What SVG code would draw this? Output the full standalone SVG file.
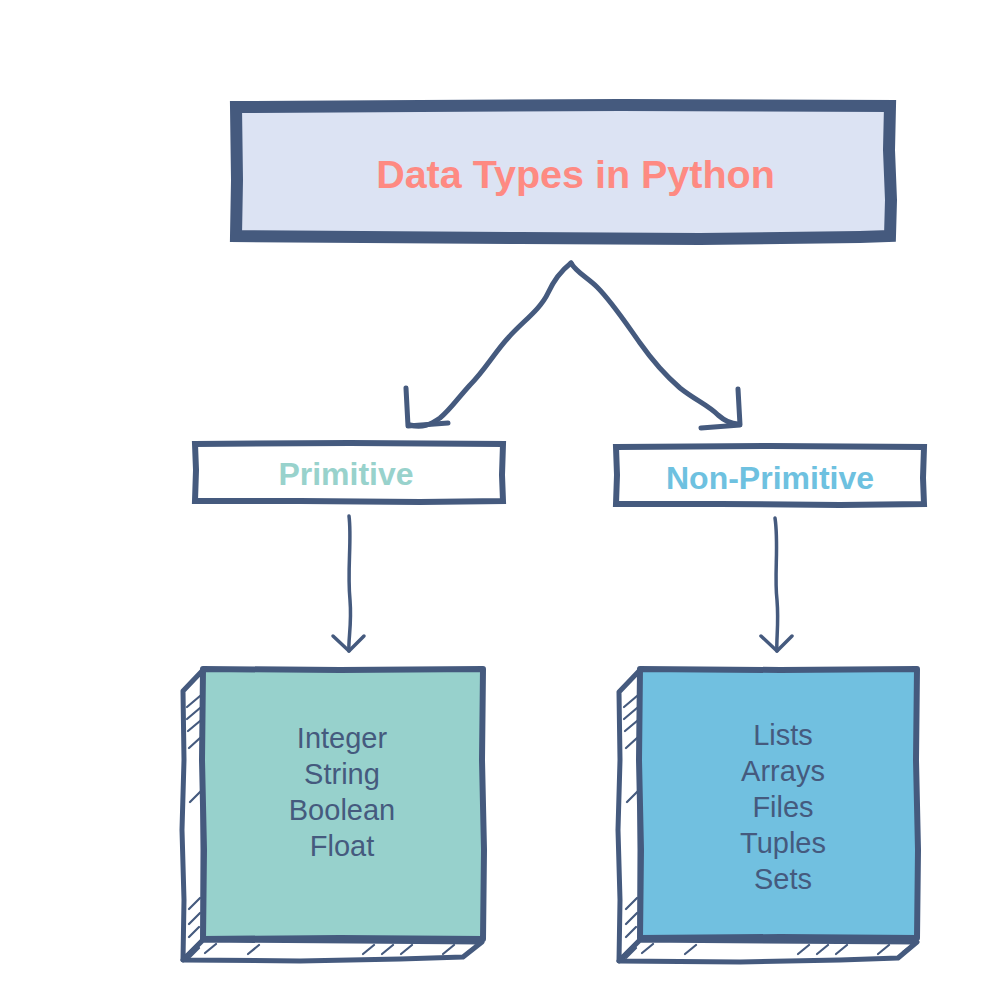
<svg xmlns="http://www.w3.org/2000/svg" width="998" height="1008" viewBox="0 0 998 1008">
<defs>
<style>
.ln{stroke:#455a7e;stroke-linecap:round;stroke-linejoin:round}
.sq{stroke-linejoin:miter;stroke-linecap:square}
.open{fill:none}
.hat{fill:none;stroke:#455a7e;stroke-width:2.2;stroke-linecap:round}
.hd{font-family:"Liberation Sans",Arial,sans-serif;font-weight:bold;text-anchor:middle}
.it{font-family:"Liberation Sans",Arial,sans-serif;font-size:29px;fill:#455a7e;text-anchor:middle}
</style>
</defs>
<rect width="998" height="1008" fill="#ffffff"/>
<g id="title">
<path class="ln sq" d="M236,107 L420,106 L620,105 L890,106 L889,150 L891,200 L890,236 L860,237 L700,239 L520,238 L236,236 L237,180 Z" fill="#dce3f3" stroke-width="12"/>
<text class="hd" x="575.5" y="188" font-size="39.5" fill="#fe8a82">Data Types in Python</text>
</g>
<g id="primitive">
<path class="ln sq" d="M195,444 L350,443 L503,444 L502,475 L503,501 L420,502 L300,501 L195,501 L196,470 Z" fill="#ffffff" stroke-width="6"/>
<text class="hd" x="346" y="485" font-size="32" fill="#98d2cc">Primitive</text>
</g>
<g id="nonprimitive">
<path class="ln sq" d="M616,447 L770,446 L924,447 L923,478 L924,504 L840,505 L720,504 L616,504 L617,475 Z" fill="#ffffff" stroke-width="6"/>
<text class="hd" x="770" y="489" font-size="32" fill="#6ec1e0">Non-Primitive</text>
</g>
<g id="primitive-list">
<path class="ln" d="M203,670 L183,691 L184,760 L182,830 L184,900 L183,960 L203,940 Z" fill="#ffffff" stroke-width="5"/>
<path class="ln" d="M183,960 L300,961 L400,959 L463,957 L482,942 L203,940 Z" fill="#ffffff" stroke-width="5"/>
<path class="ln" d="M203,669 L340,670 L483,669 L482,760 L484,850 L483,939 L340,938 L203,939 L204,850 L202,760 Z" fill="#97d1cc" stroke-width="6"/>
<path class="hat" d="M187,707 L200,696 M187,719 L200,708 M188,731 L200,721 M189,748 L200,738 M190,802 L201,791 M189,909 L200,898 M189,924 L200,913 M189,937 L199,927 M205,953 L216,944 M248,954 L259,945 M363,954 L374,945 M382,954 L393,945 M401,954 L412,945 M443,954 L454,945 M468,952 L479,944 M189,958 L199,948"/>
<text class="it"><tspan x="342" y="748">Integer</tspan><tspan x="342" y="784">String</tspan><tspan x="342" y="820">Boolean</tspan><tspan x="342" y="856">Float</tspan></text>
</g>
<g id="nonprimitive-list">
<path class="ln" d="M640,670 L619,692 L620,760 L618,830 L620,900 L619,961 L640,940 Z" fill="#ffffff" stroke-width="5"/>
<path class="ln" d="M619,961 L740,962 L840,960 L898,958 L917,942 L640,940 Z" fill="#ffffff" stroke-width="5"/>
<path class="ln" d="M640,669 L780,670 L917,669 L916,760 L918,850 L917,938 L780,937 L640,938 L641,850 L639,760 Z" fill="#71c0e0" stroke-width="6"/>
<path class="hat" d="M624,707 L637,696 M624,719 L637,708 M625,731 L637,721 M626,748 L637,738 M627,802 L638,791 M626,909 L637,898 M626,924 L637,913 M626,937 L636,927 M642,953 L653,944 M685,954 L696,945 M798,954 L809,945 M817,954 L828,945 M836,954 L847,945 M878,954 L889,945 M903,952 L914,944 M626,958 L636,948"/>
<text class="it"><tspan x="783" y="745">Lists</tspan><tspan x="783" y="781">Arrays</tspan><tspan x="783" y="817">Files</tspan><tspan x="783" y="853">Tuples</tspan><tspan x="783" y="889">Sets</tspan></text>
</g>
<g id="connectors">
<path class="ln open" stroke-width="5" d="M571,263 C562,270 553,282 548,293 C540,310 522,322 508,338 C495,352 485,370 470,385 C458,398 450,410 440,418 C430,425 422,428 410,425"/>
<path class="ln open" stroke-width="5" d="M406,388 L408,426 L448,423"/>
<path class="ln open" stroke-width="5" d="M571,263 C576,272 588,278 597,287 C612,302 625,322 640,343 C652,360 665,375 680,388 C695,400 708,405 718,415 C726,422 732,424 738,424"/>
<path class="ln open" stroke-width="5" d="M738,389 L740,425 L701,428"/>
<path class="ln open" stroke-width="3.5" d="M349,516 C352,540 347,570 350,600 C352,625 348,640 349,651"/>
<path class="ln open" stroke-width="3.5" d="M333,636 L349,651 L364,636"/>
<path class="ln open" stroke-width="3.5" d="M775,518 C779,545 774,575 777,600 C779,625 776,640 777,651"/>
<path class="ln open" stroke-width="3.5" d="M761,636 L777,651 L792,636"/>
</g>
</svg>
